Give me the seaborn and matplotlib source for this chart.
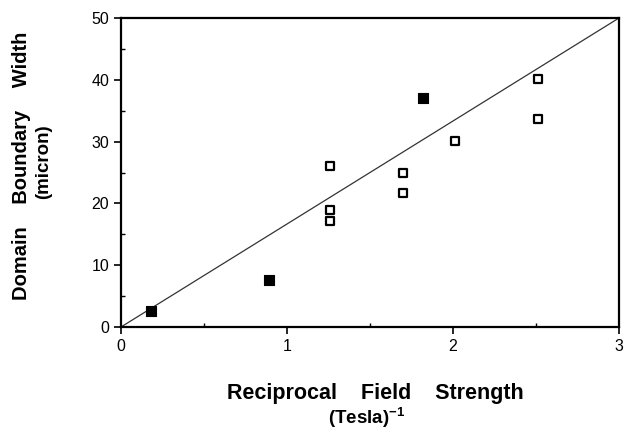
import matplotlib
matplotlib.use("Agg")
import matplotlib.pyplot as plt
import seaborn as sns
from matplotlib.ticker import MultipleLocator

# data
filled_x = [0.18, 0.89, 1.82]
filled_y = [2.6, 7.6, 37.1]
open_x = [1.26, 1.26, 1.26, 1.70, 1.70, 2.01, 2.51, 2.51]
open_y = [26.0, 19.0, 17.1, 25.0, 21.7, 30.1, 40.1, 33.6]
line_x = [0.0, 3.0]
line_y = [0.0, 50.0]

x_ticks = [0, 1, 2, 3]
y_ticks = [0, 10, 20, 30, 40, 50]

sns.set_style("ticks")
plt.rcParams['font.family'] = ['Liberation Sans', 'DejaVu Sans']
plt.rcParams['text.color'] = 'black'
plt.rcParams['axes.labelcolor'] = 'black'
plt.rcParams['xtick.color'] = 'black'
plt.rcParams['ytick.color'] = 'black'

fig = plt.figure(figsize=(6.3, 4.32), dpi=100)
ax = fig.add_axes([121/630, 1-327/432, (619-121)/630, (327-18)/432])

sns.lineplot(x=line_x, y=line_y, ax=ax, color='#333333', linewidth=0.9)
sns.scatterplot(x=open_x, y=open_y, ax=ax, marker='s', s=38,
                facecolor='white', edgecolor='black', linewidth=1.6, zorder=3)
sns.scatterplot(x=filled_x, y=filled_y, ax=ax, marker='s', s=50,
                color='black', edgecolor='black', linewidth=0.8, zorder=3)

ax.set_xlim(0, 3)
ax.set_ylim(0, 50)
ax.set_xticks(x_ticks)
ax.set_yticks(y_ticks)
ax.xaxis.set_minor_locator(MultipleLocator(0.5))
ax.yaxis.set_minor_locator(MultipleLocator(5))
ax.tick_params(which='major', direction='out', length=5, width=1.2,
               labelsize=11.5, color='black', labelcolor='black')
ax.tick_params(which='minor', direction='in', length=3, width=1.0, color='black')
for sp in ax.spines.values():
    sp.set_linewidth(1.6)
    sp.set_color('black')

fig.text(375/630, 1-394/432, "Reciprocal    Field    Strength",
         ha='center', va='center', fontsize=15.5, fontweight='bold')
fig.text(367/630, 1-418/432, "(Tesla)$^{\\mathregular{ - 1}}$",
         ha='center', va='center', fontsize=13.5, fontweight='bold')
fig.text(22/630, 1-166/432, "Domain    Boundary    Width",
         ha='center', va='center', rotation=90, fontsize=14.5, fontweight='bold')
fig.text(44/630, 1-162/432, "(micron)",
         ha='center', va='center', rotation=90, fontsize=13.5, fontweight='bold')

fig.savefig("out.png", dpi=100)
